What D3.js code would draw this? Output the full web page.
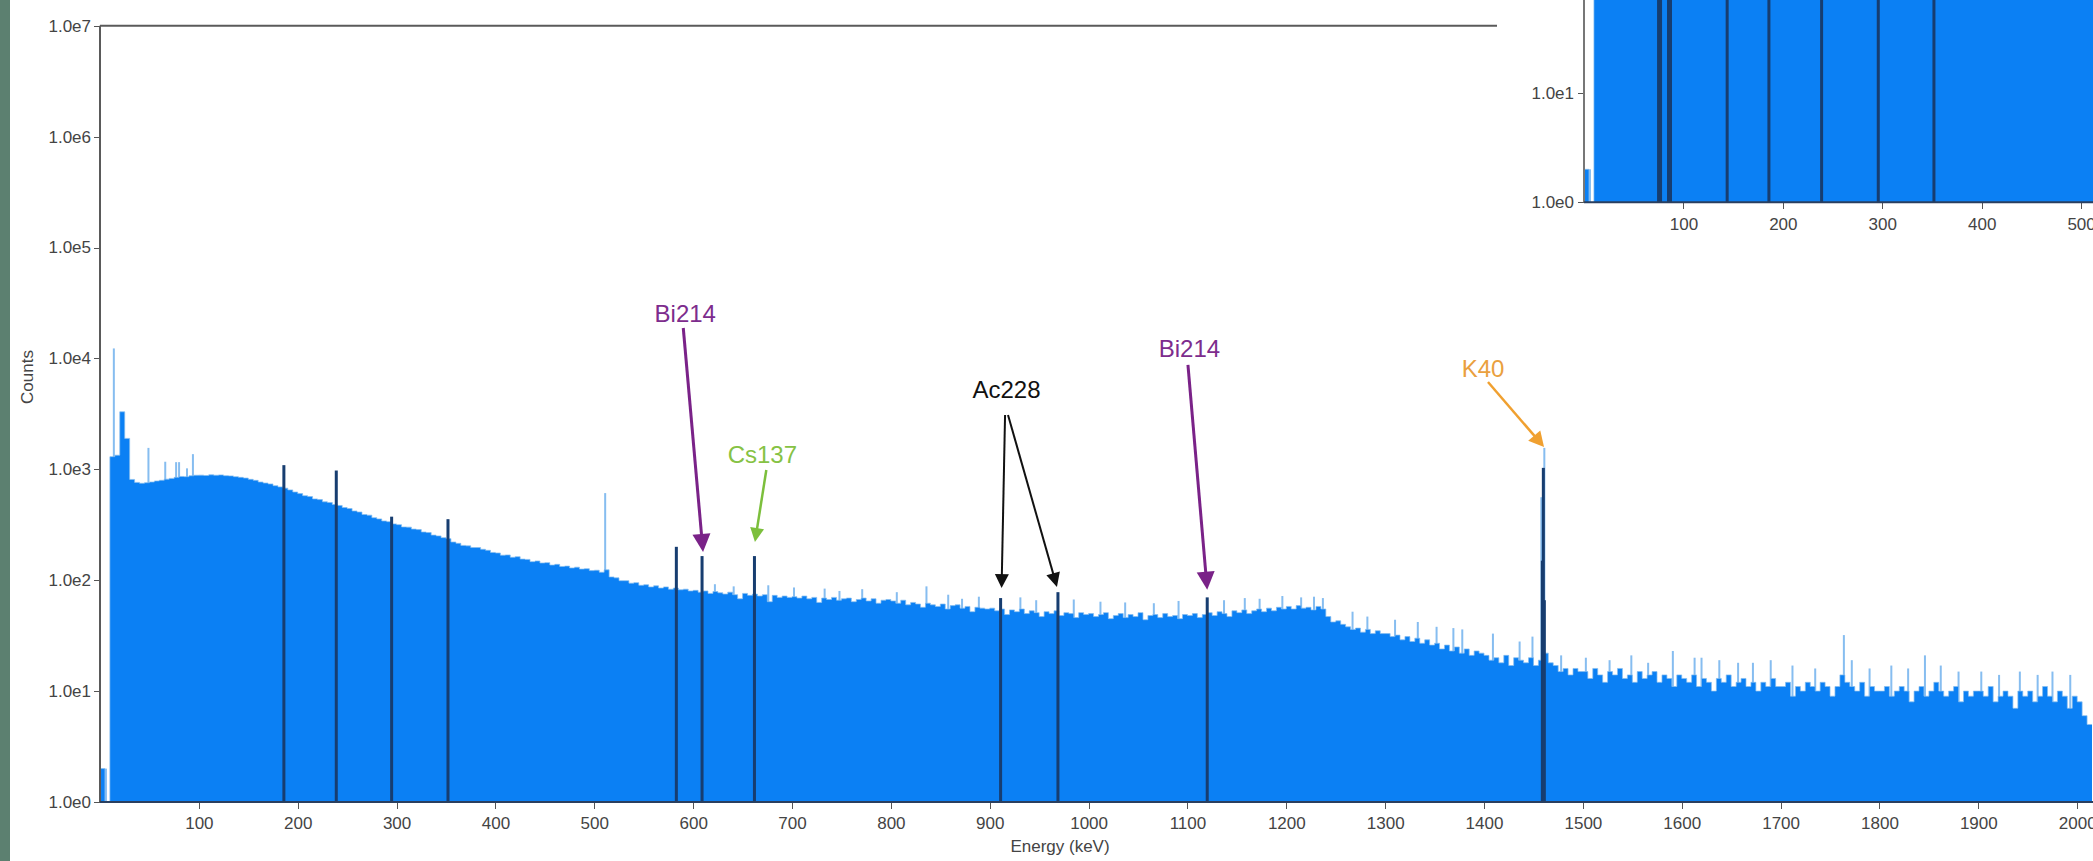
<!DOCTYPE html>
<html lang="en">
<head>
  <meta charset="utf-8" />
  <title>Gamma Spectrum</title>
  <script src="https://d3js.org/d3.v7.min.js"></script>
  <style>
    body {
      margin: 0;
      padding: 0;
      background: #ffffff;
      font-family: "Liberation Sans", Arial, Helvetica, sans-serif;
    }
    svg { display: block; }
    .axis line { stroke: #555; shape-rendering: crispEdges; }
    .axis path { display: none; }
    .axis text { font-size: 17px; fill: #444; font-family: "Liberation Sans", Arial, sans-serif; }
    .frame { stroke: #5a5a5a; stroke-width: 2; fill: none; }
  </style>
</head>
<body>
<div id="chart"></div>
<script>
/* ===== DATA ===== */
// counts per 5 keV bin, one row per 100 keV
const binWidth = 5;
const counts = [
  2, 1, 1300, 1340, 3300, 1900, 810, 762, 748, 757, 768, 785, 796, 815, 828, 846, 862, 858, 874, 884,
  886, 879, 892, 884, 890, 876, 872, 858, 846, 834, 812, 795, 768, 752, 738, 712, 694, 676, 652, 624,
  604, 578, 568, 541, 533, 509, 502, 481, 472, 452, 443, 421, 412, 391, 386, 366, 357, 342, 337, 322,
  317, 302, 301, 289, 286, 272, 269, 255, 251, 242, 237, 221, 215, 206, 204, 197, 197, 190, 186, 178,
  176, 168, 169, 161, 163, 155, 154, 147, 149, 143, 144, 137, 139, 133, 134, 129, 131, 126, 127, 122,
  123, 118, 124, 107, 105, 99, 99, 94, 95, 90, 91, 87, 89, 85, 87, 83, 85, 82, 83, 80,
  81, 78, 80, 76, 79, 77, 75, 78, 74, 68, 76, 73, 75, 72, 74, 64, 73, 70, 72, 70,
  71, 69, 72, 68, 70, 63, 69, 67, 70, 66, 68, 69, 64, 67, 69, 65, 68, 62, 66, 67,
  65, 62, 66, 60, 63, 61, 57, 62, 60, 58, 61, 55, 59, 60, 56, 58, 52, 57, 56, 55,
  56, 53, 55, 49, 54, 52, 55, 50, 53, 51, 47, 52, 50, 53, 48, 51, 50, 46, 51, 49,
  50, 47, 49, 51, 45, 48, 50, 46, 49, 47, 51, 44, 48, 49, 46, 50, 47, 48, 45, 49,
  48, 50, 46, 49, 51, 48, 52, 50, 47, 53, 51, 54, 50, 53, 55, 52, 56, 53, 57, 55,
  58, 55, 59, 56, 57, 54, 58, 55, 47, 42, 43, 40, 38, 36, 37, 34, 36, 33, 35, 33,
  33, 31, 32, 29, 31, 28, 30, 27, 29, 26, 27, 24, 26, 23, 25, 22, 24, 21, 23, 22,
  21, 19, 20, 18, 21, 17, 20, 19, 18, 20, 17, 19, 22, 18, 17, 15, 16, 14, 16, 15,
  15, 13, 16, 14, 12, 15, 14, 16, 13, 14, 12, 15, 13, 14, 15, 12, 14, 13, 11, 14,
  13, 12, 14, 11, 13, 12, 10, 13, 12, 14, 11, 12, 13, 11, 12, 10, 12, 11, 13, 11,
  11, 12, 9, 11, 10, 12, 11, 10, 12, 11, 9, 11, 14, 12, 11, 10, 12, 9, 11, 10,
  10, 11, 9, 10, 11, 10, 8, 10, 11, 9, 10, 12, 10, 9, 10, 11, 8, 10, 9, 10,
  10, 9, 11, 8, 9, 10, 9, 7, 10, 9, 10, 8, 9, 11, 9, 8, 10, 9, 7, 9,
  8, 6, 5
];

// narrow single-channel spikes above the continuum [keV, counts]
const lightSpikes = [
  [6, 2], [14, 12300], [49, 1560], [66, 1170], [77, 1160], [80, 1160], [88, 1020], [94, 1370],
  [511, 610], [1458, 560], [1461, 1560],
  [622, 92], [641, 88], [676, 90], [702, 86], [733, 84], [748, 80], [771, 83], [806, 78],
  [836, 88], [858, 74], [872, 68], [889, 71], [931, 70], [947, 66], [985, 67], [1012, 64],
  [1037, 63], [1066, 62], [1091, 65], [1137, 66], [1158, 69], [1173, 68], [1196, 72],
  [1215, 70], [1228, 71], [1237, 69], [1267, 52], [1282, 47], [1310, 44], [1333, 42],
  [1352, 38], [1369, 37], [1378, 36], [1409, 33], [1436, 28], [1449, 31],
  [1478, 21], [1503, 20], [1527, 19], [1549, 21], [1566, 18], [1591, 23], [1613, 20],
  [1620, 20], [1638, 19], [1657, 18], [1672, 18], [1690, 19], [1712, 17], [1735, 16],
  [1764, 32], [1772, 19], [1790, 16], [1812, 17], [1829, 16], [1846, 21], [1862, 17],
  [1880, 15], [1903, 15], [1921, 14], [1942, 15], [1960, 14], [1975, 15], [1993, 14]
];

// identified peak channels (dark markers) [keV, counts]
const peakLines = [
  [186, 1090], [239, 975], [295, 374], [352, 355], [583, 200], [609, 165], [662, 165],
  [911, 69], [969, 78], [1120, 70], [1459, 150], [1460, 1030], [1461, 66]
];
const insetPeakLines = [
  [75, 1000], [77, 1000], [85, 1000], [87, 1000], [144, 900], [186, 1090],
  [239, 975], [296, 374], [352, 355]
];

const xTickValues = [100, 200, 300, 400, 500, 600, 700, 800, 900, 1000,
                     1100, 1200, 1300, 1400, 1500, 1600, 1700, 1800, 1900, 2000];
const yTickValues = [1e0, 1e1, 1e2, 1e3, 1e4, 1e5, 1e6, 1e7];
const insetXTickValues = [100, 200, 300, 400, 500];
const insetYTickValues = [1e0, 1e1];

// labels: text anchor + arrow(s) from -> to, all in [keV, counts]
const labels = [
  { text: "Bi214", kind: "purple", at: [592, 25600], arrows: [[[590, 18800], [610, 180]]] },
  { text: "Cs137", kind: "green",  at: [670, 1346],  arrows: [[[674, 985], [662.5, 221]]] },
  { text: "Ac228", kind: "black",  at: [917, 5190],  arrows: [[[915.5, 3090], [912, 85]], [[918.5, 3090], [968, 87]]] },
  { text: "Bi214", kind: "purple", at: [1102, 12160], arrows: [[[1100.5, 8720], [1120, 82]]] },
  { text: "K40",   kind: "orange", at: [1399, 8190],  arrows: [[[1404, 6120], [1460.7, 1590]]] }
];

/* ===== STYLE ===== */
const W = 2093, H = 861;
const blue = "#0b80f4", lightBlue = "#86bdf0", navy = "#173d70";
const labelStyle = {
  purple: { text: "#7d2c8d", line: "#7a2288", width: 3,   head: 18, half: 9 },
  green:  { text: "#86c244", line: "#7cbf3c", width: 2.5, head: 14, half: 7 },
  black:  { text: "#111111", line: "#111111", width: 2,   head: 14, half: 7 },
  orange: { text: "#eaa03e", line: "#f0a030", width: 2.5, head: 15, half: 8 }
};

const svg = d3.select("#chart").append("svg")
  .attr("width", W).attr("height", H);

svg.append("rect").attr("width", W).attr("height", H).attr("fill", "#fff");
svg.append("rect").attr("x", 0).attr("y", 0).attr("width", 10).attr("height", H).attr("fill", "#5c8070");

const bins = counts.map((c, i) => ({ e: i * binWidth, c: c }));
bins.push({ e: counts.length * binWidth, c: counts[counts.length - 1] });

function drawSpectrum(g, xs, ys, peaks) {
  const base = ys(1);
  g.selectAll(".spike").data(lightSpikes).enter().append("rect")
    .attr("x", d => xs(d[0]) - 1)
    .attr("width", 2)
    .attr("y", d => ys(d[1]))
    .attr("height", d => base - ys(d[1]))
    .attr("fill", lightBlue);

  g.append("path").datum(bins)
    .attr("fill", blue)
    .attr("d", d3.area().curve(d3.curveStepAfter)
      .x(d => xs(d.e)).y0(base).y1(d => ys(Math.max(1, d.c))));

  g.append("path").datum(bins)
    .attr("fill", "none").attr("stroke", lightBlue).attr("stroke-width", 1).attr("opacity", 0.7)
    .attr("d", d3.line().curve(d3.curveStepAfter)
      .x(d => xs(d.e)).y(d => ys(Math.max(1, d.c))));

  g.selectAll(".peak").data(peaks).enter().append("rect")
    .attr("x", d => xs(d[0]) - 1.5)
    .attr("width", 3)
    .attr("y", d => ys(d[1]))
    .attr("height", d => base - ys(d[1]))
    .attr("fill", navy);
}

/* ===== MAIN CHART ===== */
const x = d3.scaleLinear().domain([0, 2016]).range([100, 2093]);
const y = d3.scaleLog().domain([1, 1e7]).range([802, 25.7]);

svg.append("clipPath").attr("id", "mainClip").append("rect")
  .attr("x", 100).attr("y", 25.7).attr("width", W - 100).attr("height", 802 - 25.7);
const main = svg.append("g").attr("clip-path", "url(#mainClip)");
drawSpectrum(main, x, y, peakLines);

svg.append("g").attr("class", "axis")
  .attr("transform", "translate(0,802)")
  .call(d3.axisBottom(x).tickValues(xTickValues).tickSize(7).tickPadding(8).tickFormat(d3.format("d")));

svg.append("g").attr("class", "axis")
  .attr("transform", "translate(100,0)")
  .call(d3.axisLeft(y).tickValues(yTickValues).tickSize(6).tickPadding(3)
    .tickFormat(d => "1.0e" + Math.round(Math.log10(d))));

svg.append("line").attr("class", "frame").attr("x1", 100).attr("x2", 100).attr("y1", 25.7).attr("y2", 802);
svg.append("line").attr("class", "frame").attr("x1", 100).attr("x2", 1497).attr("y1", 25.7).attr("y2", 25.7);
svg.append("line").attr("x1", 100).attr("x2", W).attr("y1", 802).attr("y2", 802)
  .attr("stroke", "#2a3f5f").attr("stroke-width", 2);

svg.append("text")
  .attr("x", 1060).attr("y", 852)
  .attr("text-anchor", "middle")
  .style("font-size", "17px").style("fill", "#444")
  .text("Energy (keV)");

svg.append("text")
  .attr("transform", "translate(33,377) rotate(-90)")
  .attr("text-anchor", "middle")
  .style("font-size", "17px").style("fill", "#444")
  .text("Counts");

/* ===== LABELS & ARROWS ===== */
labels.forEach(lb => {
  const st = labelStyle[lb.kind];
  lb.arrows.forEach(a => {
    const sx = x(a[0][0]), sy = y(a[0][1]);
    const tx = x(a[1][0]), ty = y(a[1][1]);
    const len = Math.hypot(tx - sx, ty - sy);
    const ux = (tx - sx) / len, uy = (ty - sy) / len;
    const bx = tx - ux * st.head, by = ty - uy * st.head;
    svg.append("line")
      .attr("x1", sx).attr("y1", sy).attr("x2", bx + ux * 2).attr("y2", by + uy * 2)
      .attr("stroke", st.line).attr("stroke-width", st.width);
    svg.append("polygon")
      .attr("points", [[tx, ty], [bx - uy * st.half, by + ux * st.half], [bx + uy * st.half, by - ux * st.half]]
        .map(p => p.join(",")).join(" "))
      .attr("fill", st.line);
  });
  svg.append("text")
    .attr("x", x(lb.at[0])).attr("y", y(lb.at[1]) + 8.5)
    .attr("text-anchor", "middle")
    .style("font-size", "24px")
    .style("fill", st.text)
    .text(lb.text);
});

/* ===== INSET (zoom of low energy part) ===== */
svg.append("rect").attr("x", 1497).attr("y", 0).attr("width", W - 1497).attr("height", 255).attr("fill", "#fff");

const xi = d3.scaleLinear().domain([0, 512]).range([1584, 2093]);
const yi = d3.scaleLog().domain([1, 10]).range([202.3, 92.7]);

svg.append("clipPath").attr("id", "insetClip").append("rect")
  .attr("x", 1584).attr("y", 0).attr("width", W - 1584).attr("height", 202.3);
const inset = svg.append("g").attr("clip-path", "url(#insetClip)");
drawSpectrum(inset, xi, yi, insetPeakLines);

svg.append("g").attr("class", "axis")
  .attr("transform", "translate(0,202.3)")
  .call(d3.axisBottom(xi).tickValues(insetXTickValues).tickSize(7).tickPadding(9).tickFormat(d3.format("d")));
svg.append("g").attr("class", "axis")
  .attr("transform", "translate(1584,0)")
  .call(d3.axisLeft(yi).tickValues(insetYTickValues).tickSize(6).tickPadding(4)
    .tickFormat(d => "1.0e" + Math.round(Math.log10(d))));
svg.append("line").attr("x1", 1584).attr("x2", 1584).attr("y1", 0).attr("y2", 202.3)
  .attr("stroke", "#777").attr("stroke-width", 2);
svg.append("line").attr("x1", 1584).attr("x2", W).attr("y1", 202.3).attr("y2", 202.3)
  .attr("stroke", "#2a3f5f").attr("stroke-width", 2);
</script>
</body>
</html>
